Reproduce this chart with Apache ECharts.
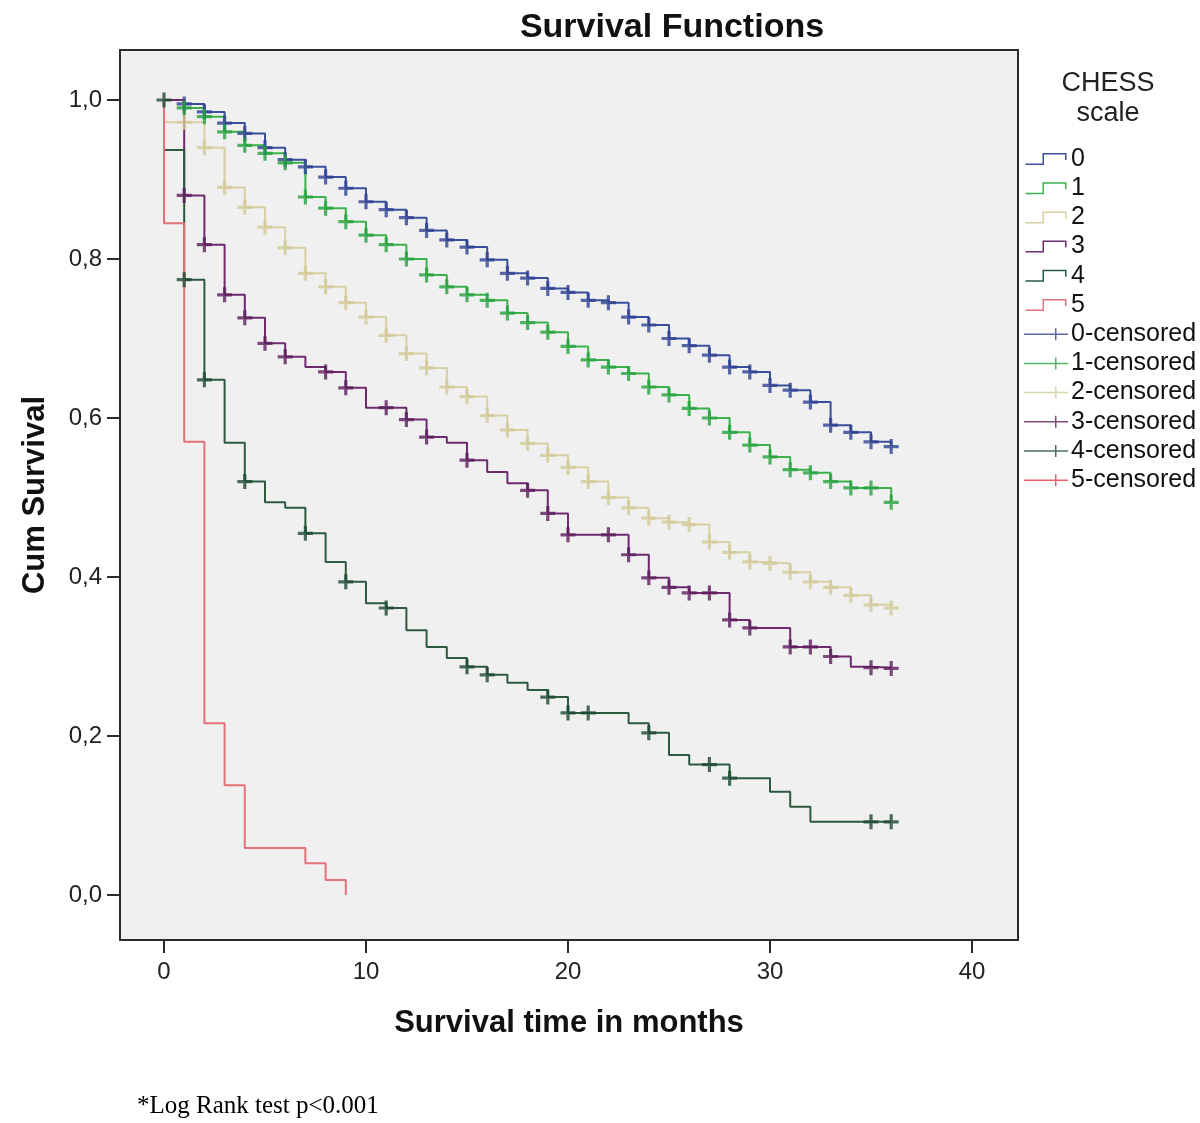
<!DOCTYPE html>
<html>
<head>
<meta charset="utf-8">
<script src="https://cdn.jsdelivr.net/npm/echarts@6/dist/echarts.min.js"></script>
<style>
html,body{margin:0;padding:0;background:#fff;}
#chart{width:1200px;height:1123px;}
</style>
</head>
<body>
<div id="chart"></div>
<script>
// ---- data (months, cumulative survival) ----
var groupNames = ['0', '1', '2', '3', '4', '5'];
var censoredNames = ['0-censored', '1-censored', '2-censored', '3-censored', '4-censored', '5-censored'];
var xTickValues = [0, 10, 20, 30, 40];
var yTickValues = [0, 0.2, 0.4, 0.6, 0.8, 1.0];
var yTickLabels = ['0,0', '0,2', '0,4', '0,6', '0,8', '1,0'];

var times0 = [0,1,2,3,4,5,6,7,8,9,10,11,12,13,14,15,16,17,18,19,20,21,22,23,24,25,26,27,28,29,30,31,32,33,34,35,36];
var surv0  = [1.0,0.995,0.985,0.971,0.958,0.94,0.925,0.916,0.903,0.889,0.872,0.862,0.852,0.836,0.824,0.815,0.799,0.782,0.776,0.763,0.758,0.748,0.745,0.727,0.717,0.70,0.691,0.679,0.664,0.658,0.641,0.635,0.62,0.591,0.582,0.57,0.564];

var times1 = [0,1,2,3,4,5,6,7,8,9,10,11,12,13,14,15,16,17,18,19,20,21,22,23,24,25,26,27,28,29,30,31,32,33,34,35,36];
var surv1  = [1.0,0.99,0.979,0.96,0.943,0.933,0.921,0.878,0.864,0.847,0.83,0.818,0.80,0.78,0.765,0.755,0.748,0.732,0.72,0.708,0.69,0.673,0.664,0.656,0.639,0.629,0.612,0.60,0.582,0.566,0.551,0.535,0.531,0.52,0.512,0.512,0.494];

var times2 = [0,0,1,2,3,4,5,6,7,8,9,10,11,12,13,14,15,16,17,18,19,20,21,22,23,24,25,26,27,28,29,30,31,32,33,34,35,36];
var surv2  = [1.0,0.972,0.972,0.94,0.89,0.865,0.84,0.814,0.782,0.765,0.745,0.727,0.704,0.681,0.663,0.639,0.627,0.603,0.585,0.568,0.553,0.538,0.52,0.50,0.487,0.474,0.469,0.466,0.444,0.431,0.419,0.417,0.406,0.394,0.387,0.377,0.365,0.361];

var times3 = [0,1,2,3,4,5,6,7,8,9,10,11,12,13,14,15,16,17,18,19,20,21,22,23,24,25,26,27,28,29,30,31,32,33,34,35,36];
var surv3  = [1.0,0.88,0.818,0.755,0.726,0.694,0.677,0.664,0.658,0.638,0.613,0.613,0.598,0.576,0.569,0.547,0.532,0.518,0.509,0.48,0.453,0.453,0.453,0.428,0.399,0.387,0.38,0.38,0.346,0.336,0.336,0.312,0.312,0.30,0.287,0.286,0.285];

var times4 = [0,0,1,2,3,4,5,6,7,8,9,10,11,12,13,14,15,16,17,18,19,20,21,22,23,24,25,26,27,28,29,30,31,32,33,34,35,36];
var surv4  = [1.0,0.937,0.774,0.648,0.569,0.52,0.494,0.487,0.455,0.419,0.394,0.367,0.361,0.333,0.312,0.298,0.287,0.277,0.267,0.258,0.249,0.229,0.229,0.229,0.216,0.204,0.176,0.164,0.164,0.147,0.147,0.13,0.111,0.092,0.092,0.092,0.092,0.092];

var times5 = [0,0,1,2,3,4,5,6,7,8,9];
var surv5  = [1.0,0.845,0.57,0.216,0.138,0.059,0.059,0.059,0.04,0.019,0.0];

var cens0 = [1,2,3,4,5,6,7,8,9,10,11,12,13,14,15,16,17,18,19,20,21,22,23,24,25,26,27,28,29,30,31,32,33,34,35,36];
var cens1 = [1,2,3,4,5,6,7,8,9,10,11,12,13,14,15,16,17,18,19,20,21,22,23,24,25,26,27,28,29,30,31,32,33,34,35,36];
var cens2 = [1,2,3,4,5,6,7,8,9,10,11,12,13,14,15,16,17,18,19,20,21,22,23,24,25,26,27,28,29,30,31,32,33,34,35,36];
var cens3 = [1,2,3,4,5,6,8,9,11,12,13,15,18,19,20,22,23,24,25,26,27,28,29,31,32,33,35,36];
var cens4 = [0,1,2,4,7,9,11,15,16,19,20,21,24,27,28,35,36];
var cens5 = [];

// axis ranges (the plot frame extends a little beyond the tick range)
var xRange = [-2.178, 42.277];
var yRange = [-0.0566, 1.0629];

// ---- styling ----
var lineColors = ['#3b4e9c', '#3bb04c', '#d6d0a2', '#6e2a6e', '#2b5a40', '#e2727a'];
var markColors = ['#2f4294', '#27a33e', '#d2cb98', '#5c1e5e', '#1e4a33', '#e8383e'];

var timesAll = [times0, times1, times2, times3, times4, times5];
var survAll = [surv0, surv1, surv2, surv3, surv4, surv5];
var censAll = [cens0, cens1, cens2, cens3, cens4, cens5];

function pairs(t, s) { return t.map(function (v, i) { return [v, s[i]]; }); }
function survAt(t, s, time) {
  for (var i = 0; i < t.length; i++) { if (t[i] === time) return s[i]; }
  var v = s[0];
  for (var j = 0; j < t.length; j++) { if (t[j] <= time) v = s[j]; }
  return v;
}

var stepIcon = 'path://M0,10.5 L17,10.5 L17,0 L41,0 L41,7 L39.5,7 L39.5,1.5 L18.5,1.5 L18.5,12 L0,12 Z';
var censIcon = 'path://M0,5.25 L31,5.25 L31,0 L32.5,0 L32.5,5.25 L44,5.25 L44,6.75 L32.5,6.75 L32.5,12 L31,12 L31,6.75 L0,6.75 Z';
var plusSymbol = 'path://M5.5,0 L8.5,0 L8.5,5.5 L14,5.5 L14,8.5 L8.5,8.5 L8.5,14 L5.5,14 L5.5,8.5 L0,8.5 L0,5.5 L5.5,5.5 Z';

var series = [];
for (var g = 0; g < 6; g++) {
  series.push({
    name: groupNames[g],
    type: 'line',
    step: 'end',
    symbol: 'none',
    clip: false,
    color: lineColors[g],
    lineStyle: { width: 2, color: lineColors[g] },
    data: pairs(timesAll[g], survAll[g]),
    z: 2
  });
}
for (var c = 0; c < 6; c++) {
  series.push({
    name: censoredNames[c],
    type: 'scatter',
    clip: false,
    symbol: plusSymbol,
    symbolSize: 15,
    color: markColors[c],
    itemStyle: { color: markColors[c] },
    data: censAll[c].map(function (t) { return [t, survAt(timesAll[c], survAll[c], t)]; }),
    z: 3
  });
}

var legendData = [];
groupNames.forEach(function (n) { legendData.push({ name: n, icon: stepIcon }); });
censoredNames.forEach(function (n) { legendData.push({ name: n, icon: censIcon }); });

var chart = echarts.init(document.getElementById('chart'), null, { renderer: 'canvas' });
chart.setOption({
  backgroundColor: '#ffffff',
  animation: false,
  textStyle: { fontFamily: 'Liberation Sans, Arial, sans-serif' },
  graphic: {
    elements: [
      {
        type: 'text', z: 10, x: 672, y: 28,
        style: { text: 'Survival Functions', font: 'bold 34px "Liberation Sans", Arial, sans-serif', fill: '#111', textAlign: 'center', textVerticalAlign: 'middle', align: 'center', verticalAlign: 'middle' }
      },
      {
        type: 'text', z: 10, x: 1108, y: 99,
        style: { text: 'CHESS\nscale', font: '27px "Liberation Sans", Arial, sans-serif', lineHeight: 30, fill: '#222', textAlign: 'center', textVerticalAlign: 'middle', align: 'center', verticalAlign: 'middle' }
      },
      {
        type: 'text', z: 10, x: 137, y: 1106,
        style: { text: '*Log Rank test p<0.001', font: '25px "Liberation Serif", "Times New Roman", serif', fill: '#000', textAlign: 'left', textVerticalAlign: 'middle', align: 'left', verticalAlign: 'middle' }
      }
    ]
  },
  legend: {
    orient: 'vertical',
    left: 1019,
    top: 141,
    itemWidth: 44,
    itemHeight: 12,
    itemGap: 3.2,
    selectedMode: false,
    data: legendData,
    textStyle: { fontSize: 25, color: '#111', lineHeight: 26, padding: [0, 0, 0, -2] }
  },
  grid: {
    left: 120, right: 182, top: 50, bottom: 183, containLabel: false,
    show: true, backgroundColor: '#f0f0f0', borderColor: '#2a2a2a', borderWidth: 2
  },
  xAxis: {
    type: 'value',
    position: 'bottom',
    min: xRange[0], max: xRange[1],
    name: 'Survival time in months',
    nameLocation: 'middle',
    nameGap: 68,
    nameTextStyle: { fontSize: 31, fontWeight: 'bold', color: '#111' },
    axisLine: { show: false, onZero: false },
    axisTick: { show: true, length: 13, inside: false, customValues: xTickValues, lineStyle: { color: '#2a2a2a', width: 2 } },
    axisLabel: { fontSize: 24, color: '#222', margin: 20, customValues: xTickValues, formatter: function (v) { return String(Math.round(v)); } },
    splitLine: { show: false }
  },
  yAxis: {
    type: 'value',
    position: 'left',
    min: yRange[0], max: yRange[1],
    name: 'Cum Survival',
    nameLocation: 'middle',
    nameGap: 69,
    nameRotate: 90,
    nameTextStyle: { fontSize: 31, fontWeight: 'bold', color: '#111' },
    axisLine: { show: false, onZero: false },
    axisTick: { show: true, length: 13, inside: false, customValues: yTickValues, lineStyle: { color: '#2a2a2a', width: 2 } },
    axisLabel: { fontSize: 24, color: '#222', margin: 18, customValues: yTickValues, formatter: function (v) { return yTickLabels[Math.round(v / 0.2)]; } },
    splitLine: { show: false }
  },
  series: series
});
</script>
</body>
</html>
